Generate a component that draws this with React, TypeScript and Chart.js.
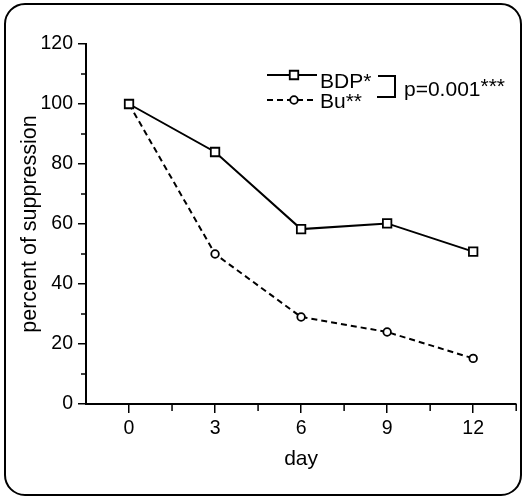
import React, { useEffect, useRef } from 'react';
import { Chart, registerables } from 'chart.js';

Chart.register(...registerables);

// ---- data ----
const days = [0, 3, 6, 9, 12];
const bdpValues = [100, 84, 58.3, 60.2, 50.8];
const buValues = [100, 50, 29, 24, 15.2];
const xTickValues = [0, 3, 6, 9, 12];
const xMinorTickValues = [1.5, 4.5, 7.5, 10.5, 13.5];
const yTickValues = [0, 20, 40, 60, 80, 100, 120];
const yMinorTickValues = [10, 30, 50, 70, 90, 110];
const seriesLabels = ['BDP*', 'Bu**'];
const pValueLabel = 'p=0.001';
const pValueStars = '***';
const xTitle = 'day';
const yTitle = 'percent of suppression';

const INK = '#000000';
const FAMILY = '"Liberation Sans", Arial, Helvetica, sans-serif';

const decorPlugin = {
  id: 'decor',
  beforeDraw(chart: any) {
    const ctx = chart.ctx as CanvasRenderingContext2D;
    ctx.save();
    ctx.fillStyle = '#ffffff';
    ctx.fillRect(0, 0, chart.width, chart.height);
    ctx.strokeStyle = INK;
    ctx.lineWidth = 2;
    ctx.beginPath();
    (ctx as any).roundRect(5, 4, 516, 491, 20);
    ctx.stroke();
    ctx.restore();
  },
  afterDraw(chart: any) {
    const ctx = chart.ctx as CanvasRenderingContext2D;
    const xs = chart.scales.x;
    const ys = chart.scales.y;
    const area = chart.chartArea;
    ctx.save();
    ctx.strokeStyle = INK;
    ctx.lineWidth = 1.5;
    // minor ticks
    ctx.beginPath();
    for (const v of xMinorTickValues) {
      const px = xs.getPixelForValue(v);
      ctx.moveTo(px, area.bottom);
      ctx.lineTo(px, area.bottom + 7);
    }
    for (const v of yMinorTickValues) {
      const py = ys.getPixelForValue(v);
      ctx.moveTo(area.left - 5, py);
      ctx.lineTo(area.left, py);
    }
    ctx.stroke();

    // legend
    const ds = chart.data.datasets;
    const rows = [
      { y: 75, base: 88, ds: ds[0] },
      { y: 100, base: 108, ds: ds[1] },
    ];
    const x0 = 267;
    const x1 = 317;
    const mx = 294;
    ctx.font = `21px ${FAMILY}`;
    ctx.textBaseline = 'alphabetic';
    ctx.textAlign = 'left';
    for (const r of rows) {
      const d = r.ds;
      ctx.strokeStyle = d.borderColor;
      ctx.lineWidth = d.borderWidth;
      ctx.setLineDash(d.borderDash || []);
      ctx.beginPath();
      ctx.moveTo(x0, r.y);
      ctx.lineTo(x1, r.y);
      ctx.stroke();
      ctx.setLineDash([]);
      ctx.fillStyle = d.pointBackgroundColor;
      ctx.strokeStyle = d.pointBorderColor;
      ctx.lineWidth = d.pointBorderWidth;
      ctx.beginPath();
      if (d.pointStyle === 'rect') {
        const s = d.pointRadius * Math.SQRT1_2;
        ctx.rect(mx - s, r.y - s, 2 * s, 2 * s);
      } else {
        ctx.arc(mx, r.y, d.pointRadius, 0, Math.PI * 2);
      }
      ctx.fill();
      ctx.stroke();
      ctx.fillStyle = INK;
      ctx.fillText(d.label, 320, r.base);
    }
    // bracket
    ctx.strokeStyle = INK;
    ctx.lineWidth = 2;
    ctx.beginPath();
    ctx.moveTo(378, 76);
    ctx.lineTo(395, 76);
    ctx.lineTo(395, 97);
    ctx.lineTo(377, 97);
    ctx.stroke();
    ctx.fillStyle = INK;
    ctx.fillText(pValueLabel, 404, 96);
    const w = ctx.measureText(pValueLabel).width;
    ctx.fillText(pValueStars, 404 + w, 93);
    ctx.restore();
  },
};

export default function App() {
  const ref = useRef<HTMLCanvasElement | null>(null);

  useEffect(() => {
    if (!ref.current) return;
    Chart.defaults.font.family = FAMILY;
    const chart = new Chart(ref.current, {
      type: 'line',
      data: {
        datasets: [
          {
            label: seriesLabels[0],
            data: days.map((d, i) => ({ x: d, y: bdpValues[i] })),
            borderColor: INK,
            borderWidth: 2,
            pointStyle: 'rect',
            pointRadius: 6,
            pointBorderWidth: 1.8,
            pointBackgroundColor: '#ffffff',
            pointBorderColor: INK,
            tension: 0,
            fill: false,
          },
          {
            label: seriesLabels[1],
            data: days.map((d, i) => ({ x: d, y: buValues[i] })),
            borderColor: INK,
            borderWidth: 2,
            borderDash: [6, 4],
            pointStyle: 'circle',
            pointRadius: 3.8,
            pointBorderWidth: 1.8,
            pointBackgroundColor: '#ffffff',
            pointBorderColor: INK,
            tension: 0,
            fill: false,
          },
        ],
      },
      options: {
        responsive: false,
        animation: false,
        layout: { padding: { left: 0, top: 44, right: 7, bottom: 0 } },
        plugins: {
          legend: { display: false },
          tooltip: { enabled: false },
        },
        scales: {
          x: {
            type: 'linear',
            min: -1.5,
            max: 13.5,
            afterBuildTicks: (s: any) => {
              s.ticks = xTickValues.map((v) => ({ value: v }));
            },
            afterFit: (s: any) => {
              s.height = 94;
            },
            ticks: {
              color: INK,
              font: { family: FAMILY, size: 19.5 },
              padding: 4,
              callback: (v: any) => String(v),
            },
            grid: {
              display: true,
              drawOnChartArea: false,
              drawTicks: true,
              tickLength: 9,
              color: INK,
              lineWidth: 1.5,
            },
            border: { display: true, color: INK, width: 2 },
            title: {
              display: true,
              text: xTitle,
              color: INK,
              font: { family: FAMILY, size: 21 },
              padding: { top: 0, bottom: 26 },
            },
          },
          y: {
            type: 'linear',
            min: 0,
            max: 120,
            afterBuildTicks: (s: any) => {
              s.ticks = yTickValues.map((v) => ({ value: v }));
            },
            afterFit: (s: any) => {
              s.width = 86;
            },
            ticks: {
              color: INK,
              font: { family: FAMILY, size: 19.5 },
              padding: 5,
              callback: (v: any) => String(v),
            },
            grid: {
              display: true,
              drawOnChartArea: false,
              drawTicks: true,
              tickLength: 8,
              color: INK,
              lineWidth: 1.5,
            },
            border: { display: true, color: INK, width: 2 },
            title: {
              display: true,
              text: yTitle,
              color: INK,
              font: { family: FAMILY, size: 21.5 },
              padding: { top: 17, bottom: 0 },
            },
          },
        },
      },
      plugins: [decorPlugin],
    } as any);
    return () => chart.destroy();
  }, []);

  return (
    <div style={{ position: 'absolute', left: 0, top: 0, width: 524, height: 498 }}>
      <canvas ref={ref} width={524} height={498} style={{ display: 'block', width: 524, height: 498 }} />
    </div>
  );
}
